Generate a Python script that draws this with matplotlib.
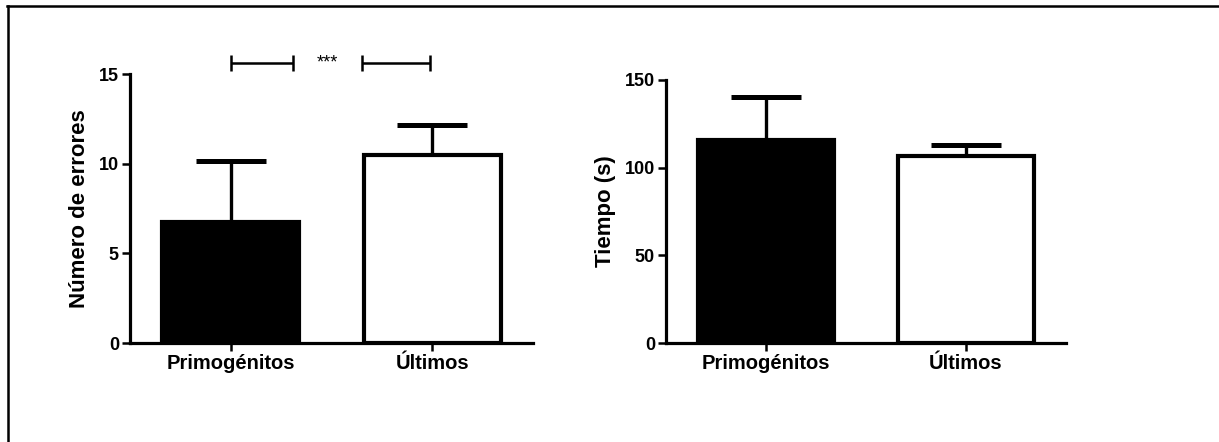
import numpy as np
import matplotlib
matplotlib.use("Agg")
import matplotlib.pyplot as plt
from matplotlib.lines import Line2D

plt.rcParams['font.family'] = ['Liberation Sans', 'DejaVu Sans']

# Data
categories = ["Primogénitos", "Últimos"]
errores_mean = [6.75, 10.5]
errores_err = [3.4, 1.65]
tiempo_mean = [116.0, 106.7]
tiempo_err = [24.5, 6.4]
errores_ticks = [0, 5, 10, 15]
tiempo_ticks = [0, 50, 100, 150]

bar_colors = ["black", "white"]
W = 1219
H = 442


def style_axis(ax, ticks, ylabel, top):
    x = np.arange(len(categories))
    ax.set_xlim(-0.5, 1.5)
    ax.set_ylim(0, top)
    ax.set_yticks(ticks)
    ax.set_xticks(x)
    ax.set_xticklabels(categories, fontsize=14.5, fontweight='bold')
    for lab in ax.get_yticklabels():
        lab.set_fontsize(13)
        lab.set_fontweight('bold')
    ax.set_ylabel(ylabel, fontsize=16, fontweight='bold', labelpad=6)
    ax.spines['top'].set_visible(False)
    ax.spines['right'].set_visible(False)
    ax.spines['left'].set_linewidth(2.3)
    ax.spines['bottom'].set_linewidth(2.3)
    ax.tick_params(axis='both', direction='out', length=6, width=1.8, pad=2)


def draw_bars(ax, means, errs):
    x = np.arange(len(categories))
    ax.errorbar(x, means, yerr=[np.zeros(len(errs)), errs], fmt='none',
                ecolor='black', elinewidth=2.4, capsize=25, capthick=3.6,
                zorder=1)
    ax.bar(x, means, width=0.68, color=bar_colors, edgecolor='black',
           linewidth=3.0, zorder=2)


fig = plt.figure(figsize=(W / 100, H / 100), dpi=100)

ax1 = fig.add_axes([130 / W, 1 - 343 / H, 403 / W, 269 / H])
draw_bars(ax1, errores_mean, errores_err)
style_axis(ax1, errores_ticks, "Número de errores", 15)

# significance marker above the left panel
ax1.errorbar([0.155, 0.82], [15.6, 15.6], xerr=[0.155, 0.168], fmt='none',
             ecolor='black', elinewidth=1.8, capsize=5.5, capthick=1.8,
             clip_on=False)
ax1.text(0.48, 15.6, "***", ha='center', va='center', fontsize=13)

ax2 = fig.add_axes([666 / W, 1 - 343 / H, 400 / W, 263 / H])
draw_bars(ax2, tiempo_mean, tiempo_err)
style_axis(ax2, tiempo_ticks, "Tiempo (s)", 150)

# partial frame around the picture (top and left edges)
fig.add_artist(Line2D([7 / W, 1], [1 - 6 / H, 1 - 6 / H],
                      transform=fig.transFigure, color='black', lw=1.8))
fig.add_artist(Line2D([7.5 / W, 7.5 / W], [0, 1 - 6 / H],
                      transform=fig.transFigure, color='black', lw=1.8))

fig.savefig("out.png", dpi=100)
